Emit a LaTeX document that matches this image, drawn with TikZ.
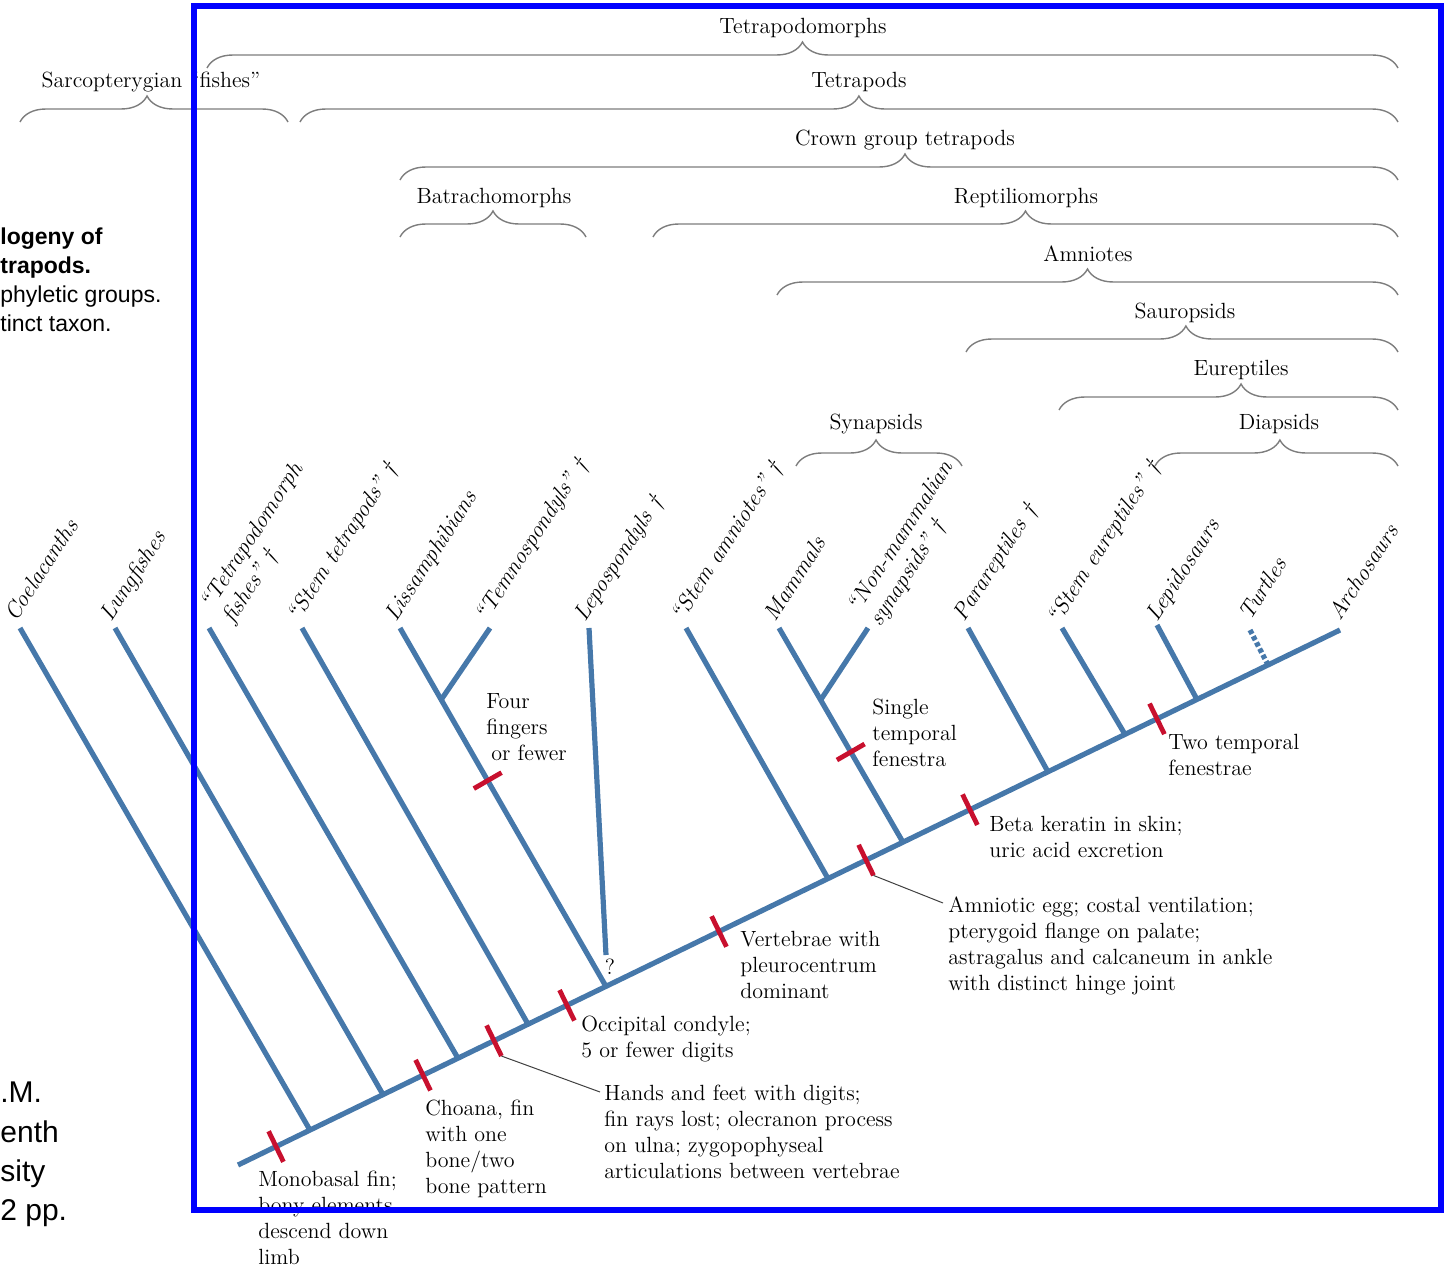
\documentclass[tikz,border=0pt]{standalone}
\usepackage{fontspec}
\newfontfamily\slidefont{Liberation Sans}
\usepackage{tikz}
\usetikzlibrary{calc,decorations.pathreplacing}
\definecolor{branchblue}{RGB}{70,120,170}
\definecolor{synred}{RGB}{200,16,46}
\definecolor{bracegray}{RGB}{125,125,125}

\begin{document}
\begin{tikzpicture}[x=0.5pt, y=-0.5pt,
        lineage/.style={draw=branchblue, line width=2.6pt},
        synapo/.style={draw=synred, line width=2.4pt},
        cladebrace/.style={draw=bracegray, line width=0.7pt, decorate,
            decoration={brace, amplitude=13pt, aspect=#1}},
        cladebrace/.default=0.5,
        cladename/.style={anchor=base, inner sep=0pt, font=\fontsize{11}{13}\selectfont},
        taxon/.style={anchor=base west, rotate=57, inner sep=0pt, align=left,
            font=\fontsize{11.5}{13}\selectfont\itshape},
        trait/.style={anchor=north west, inner sep=0pt, align=left,
            font=\fontsize{11}{13}\selectfont},
        leader/.style={draw=black!75, line width=0.5pt},
        capfrag/.style={anchor=base west, inner sep=0pt, font=\slidefont\fontsize{11.5}{14}\selectfont},
        capbold/.style={anchor=base west, inner sep=0pt, font=\slidefont\fontsize{11.5}{14}\selectfont\bfseries},
        reffrag/.style={anchor=base west, inner sep=0pt, font=\slidefont\fontsize{15}{18}\selectfont}]
        \useasboundingbox (0,0) rectangle (1445,1268);

        % caption fragments at the left
        \node[capbold] (capA) at (0,244) {logeny of};
        \node[capbold] (capB) at (0,273) {trapods.};
        \node[capfrag] (capC) at (0,302) {phyletic groups.};
        \node[capfrag] (capD) at (0,331) {tinct taxon.};
        \node[reffrag] (refA) at (0,1102) {.M.};
        \node[reffrag] (refB) at (0,1142) {enth};
        \node[reffrag] (refC) at (0,1181) {sity};
        \node[reffrag] (refD) at (0,1220) {2 pp.};

        % clade braces
        \draw[cladebrace] (207,68) -- (1398,68);
        \node[cladename] (nTetrapodomorphs) at (803,34) {Tetrapodomorphs};
        \draw[cladebrace=0.474] (20,122) -- (288,122);
        \node[cladename] (nSarco) at (151,88) {Sarcopterygian “fishes”};
        \draw[cladebrace=0.509] (300,122) -- (1398,122);
        \node[cladename] (nTetrapods) at (859,88) {Tetrapods};
        \draw[cladebrace=0.506] (400,180) -- (1398,180);
        \node[cladename] (nCrown) at (905,146) {Crown group tetrapods};
        \draw[cladebrace] (400,237) -- (586,237);
        \node[cladename] (nBatracho) at (494,203) {Batrachomorphs};
        \draw[cladebrace] (653,237) -- (1398,237);
        \node[cladename] (nReptilio) at (1026,203) {Reptiliomorphs};
        \draw[cladebrace] (777,295) -- (1398,295);
        \node[cladename] (nAmniotes) at (1088,261) {Amniotes};
        \draw[cladebrace=0.509] (966,352) -- (1398,352);
        \node[cladename] (nSauropsids) at (1185,318) {Sauropsids};
        \draw[cladebrace=0.537] (1059,410) -- (1398,410);
        \node[cladename] (nEureptiles) at (1241,375) {Eureptiles};
        \draw[cladebrace=0.482] (796,466) -- (962,466);
        \node[cladename] (nSynapsids) at (876,429) {Synapsids};
        \draw[cladebrace=0.514] (1155,466) -- (1398,466);
        \node[cladename] (nDiapsids) at (1279,429) {Diapsids};

        % backbone and joints
        \coordinate (root) at (238,1165);
        \coordinate (archo) at (1340,630);
        \coordinate (jcoel) at ($(root)!0.0653!(archo)$);
        \coordinate (jlung) at ($(root)!0.1316!(archo)$);
        \coordinate (jtpm) at ($(root)!0.1996!(archo)$);
        \coordinate (jstemtet) at ($(root)!0.2632!(archo)$);
        \coordinate (jbatr) at ($(root)!0.3339!(archo)$);
        \coordinate (jstemam) at ($(root)!0.5354!(archo)$);
        \coordinate (jsyn) at ($(root)!0.6034!(archo)$);
        \coordinate (jpara) at ($(root)!0.7350!(archo)$);
        \coordinate (jsteu) at ($(root)!0.8049!(archo)$);
        \coordinate (jlepi) at ($(root)!0.8702!(archo)$);
        \coordinate (jturt) at ($(root)!0.9347!(archo)$);

        % branch tips
        \coordinate (tcoel) at (20,628);
        \coordinate (tlung) at (115,628);
        \coordinate (ttpm) at (209,628);
        \coordinate (tstemtet) at (302,628);
        \coordinate (tliss) at (400,628);
        \coordinate (ttemno) at (490,628);
        \coordinate (tlepo) at (589,628);
        \coordinate (lepoend) at (606,955);
        \coordinate (tstemam) at (686,628);
        \coordinate (tmamm) at (779,628);
        \coordinate (tnonmam) at (868,628);
        \coordinate (tpara) at (968,628);
        \coordinate (tsteu) at (1062,628);
        \coordinate (tlepi) at (1157,625);
        \coordinate (tturt) at (1250,630);
        \coordinate (fbatr) at ($(tliss)!0.2!(jbatr)$);
        \coordinate (fsyn) at ($(tmamm)!0.336!(jsyn)$);

        \draw[lineage] (root) -- (archo);
        \draw[lineage] (tcoel) -- (jcoel);
        \draw[lineage] (tlung) -- (jlung);
        \draw[lineage] (ttpm) -- (jtpm);
        \draw[lineage] (tstemtet) -- (jstemtet);
        \draw[lineage] (tliss) -- (jbatr);
        \draw[lineage] (ttemno) -- (fbatr);
        \draw[lineage] (tlepo) -- (lepoend);
        \draw[lineage] (tstemam) -- (jstemam);
        \draw[lineage] (tmamm) -- (jsyn);
        \draw[lineage] (tnonmam) -- (fsyn);
        \draw[lineage] (tpara) -- (jpara);
        \draw[lineage] (tsteu) -- (jsteu);
        \draw[lineage] (tlepi) -- (jlepi);
        \draw[lineage, dash pattern=on 2.2pt off 1.3pt] (tturt) -- (jturt);

        % taxon names
        \node[taxon] (coel) at ($(tcoel)+(-4,-5)$) {Coelacanths};
        \node[taxon] (lung) at ($(tlung)+(-4,-5)$) {Lungfishes};
        \node[taxon] (tpm) at ($(ttpm)+(24,-3)$) {“Tetrapodomorph\\fishes” \textdagger};
        \node[taxon] (stemtet) at ($(tstemtet)+(-4,-5)$) {“Stem tetrapods” \textdagger};
        \node[taxon] (liss) at ($(tliss)+(-4,-5)$) {Lissamphibians};
        \node[taxon] (temno) at ($(ttemno)+(-4,-5)$) {“Temnospondyls” \textdagger};
        \node[taxon] (lepo) at ($(tlepo)+(-4,-5)$) {Lepospondyls \textdagger};
        \node[taxon] (stemam) at ($(tstemam)+(-4,-5)$) {“Stem amniotes” \textdagger};
        \node[taxon] (mamm) at ($(tmamm)+(-4,-5)$) {Mammals};
        \node[taxon] (nonmam) at ($(tnonmam)+(12,0)$) {“Non-mammalian\\synapsids” \textdagger};
        \node[taxon] (para) at ($(tpara)+(-4,-5)$) {Parareptiles \textdagger};
        \node[taxon] (steu) at ($(tsteu)+(-4,-2)$) {“Stem eureptiles” \textdagger};
        \node[taxon] (lepi) at ($(tlepi)+(0,-2)$) {Lepidosaurs};
        \node[taxon] (turt) at ($(tturt)+(0,-8)$) {Turtles};
        \node[taxon] (arch) at ($(archo)+(0,-8)$) {Archosaurs};

        % synapomorphy bars
        \coordinate (bmono) at ($(root)!0.0345!(archo)$);
        \coordinate (bchoana) at ($(root)!0.1679!(archo)$);
        \coordinate (bdigits) at ($(root)!0.2323!(archo)$);
        \coordinate (bocc) at ($(root)!0.2985!(archo)$);
        \coordinate (bvert) at ($(root)!0.4365!(archo)$);
        \coordinate (bamnio) at ($(root)!0.5699!(archo)$);
        \coordinate (bbeta) at ($(root)!0.6642!(archo)$);
        \coordinate (btwo) at ($(root)!0.8339!(archo)$);
        \coordinate (bfour) at ($(tliss)!0.4258!(jbatr)$);
        \coordinate (bsingle) at ($(tmamm)!0.579!(jsyn)$);
        \draw[synapo] ($(bmono)!8.5pt!90:(archo)$) -- ($(bmono)!8.5pt!-90:(archo)$);
        \draw[synapo] ($(bchoana)!8.5pt!90:(archo)$) -- ($(bchoana)!8.5pt!-90:(archo)$);
        \draw[synapo] ($(bdigits)!8.5pt!90:(archo)$) -- ($(bdigits)!8.5pt!-90:(archo)$) coordinate (bdigitslow);
        \draw[synapo] ($(bocc)!8.5pt!90:(archo)$) -- ($(bocc)!8.5pt!-90:(archo)$);
        \draw[synapo] ($(bvert)!8.5pt!90:(archo)$) -- ($(bvert)!8.5pt!-90:(archo)$);
        \draw[synapo] ($(bamnio)!8.5pt!90:(archo)$) -- ($(bamnio)!8.5pt!-90:(archo)$) coordinate (bamniolow);
        \draw[synapo] ($(bbeta)!8.5pt!90:(archo)$) -- ($(bbeta)!8.5pt!-90:(archo)$);
        \draw[synapo] ($(btwo)!8.5pt!90:(archo)$) -- ($(btwo)!8.5pt!-90:(archo)$);
        \draw[synapo] ($(bfour)!8pt!90:(jbatr)$) -- ($(bfour)!8pt!-90:(jbatr)$);
        \draw[synapo] ($(bsingle)!8pt!90:(jsyn)$) -- ($(bsingle)!8pt!-90:(jsyn)$);

        % character states
        \node[trait] (mono) at (258,1171) {Monobasal fin;\\bony elements\\descend down\\limb};
        \node[trait] (choana) at (425,1100) {Choana, fin\\with one\\bone/two\\bone pattern};
        \node[trait] (digits) at (604,1085) {Hands and feet with digits;\\fin rays lost; olecranon process\\on ulna; zygopophyseal\\articulations between vertebrae};
        \node[trait] (occ) at (581,1016) {Occipital condyle;\\5 or fewer digits};
        \node[trait] (vert) at (740,931) {Vertebrae with\\pleurocentrum\\dominant};
        \node[trait] (amnio) at (948,896) {Amniotic egg; costal ventilation;\\pterygoid flange on palate;\\astragalus and calcaneum in ankle\\with distinct hinge joint};
        \node[trait] (beta) at (989,816) {Beta keratin in skin;\\uric acid excretion};
        \node[trait] (two) at (1168,734) {Two temporal\\fenestrae};
        \node[trait] (single) at (872,699) {Single\\temporal\\fenestra};
        \node[trait] (four) at (486,693) {Four\\fingers\\\hspace*{2.5pt}or fewer};
        \node[trait, anchor=center] (query) at (610,967) {?};
        \draw[leader] (bdigitslow) -- ($(digits.north west)+(-4,7)$);
        \draw[leader] (bamniolow) -- ($(amnio.north west)+(-5,7)$);

        \draw[blue, line width=2.7pt] (194,6) rectangle (1441,1210);
\end{tikzpicture}
\end{document}
